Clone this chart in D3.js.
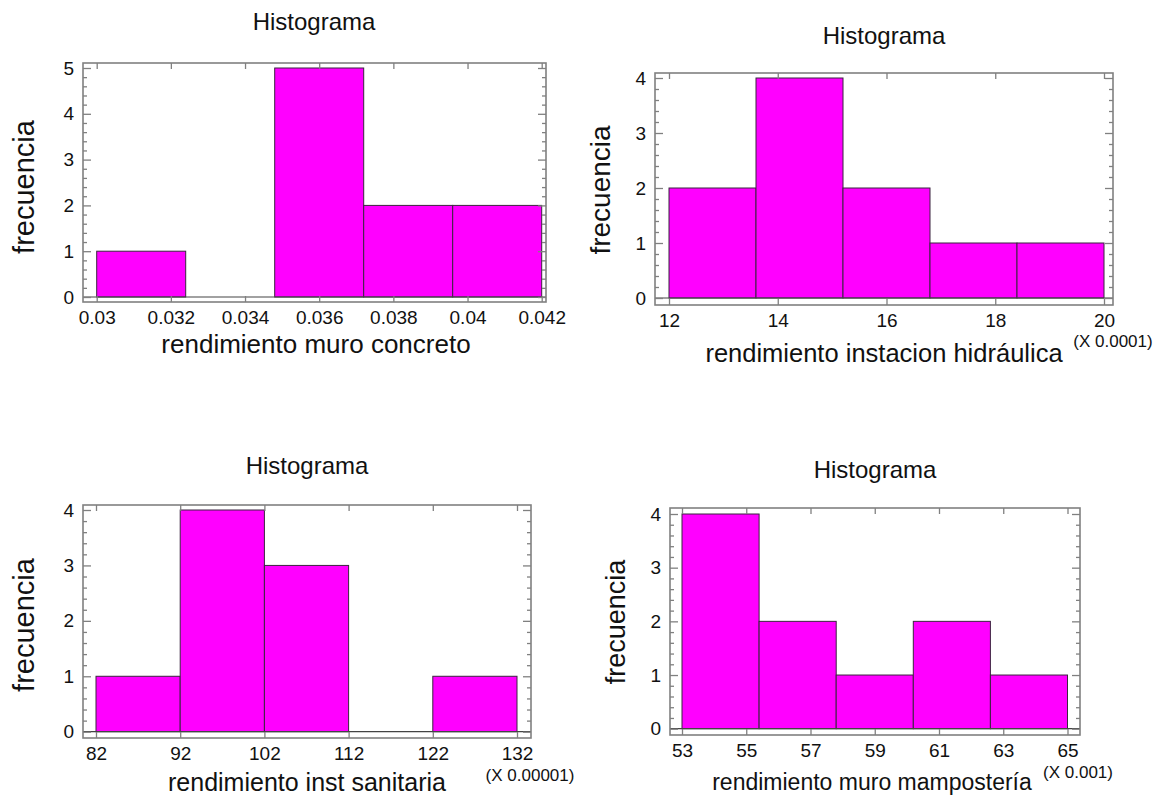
<!DOCTYPE html>
<html><head><meta charset="utf-8">
<script src="https://cdn.jsdelivr.net/npm/d3@7"></script>
<style>
html,body{margin:0;padding:0;background:#fff;}
svg{display:block;font-family:"Liberation Sans",Arial,sans-serif;}
</style></head>
<body>
<svg id="c" width="1175" height="800"></svg>
<script>
// ---- data ----
const titleText = "Histograma";
const yLabelText = "frecuencia";

const p1Edges = [0.03, 0.0324, 0.0348, 0.0372, 0.0396, 0.042];
const p1Counts = [1, 0, 5, 2, 2];
const p1XTicks = [0.03, 0.032, 0.034, 0.036, 0.038, 0.04, 0.042];
const p1XTickLabels = ["0.03", "0.032", "0.034", "0.036", "0.038", "0.04", "0.042"];
const p1YTicks = [0, 1, 2, 3, 4, 5];
const p1XLabel = "rendimiento muro concreto";
const p1Mult = "";

const p2Edges = [12, 13.6, 15.2, 16.8, 18.4, 20];
const p2Counts = [2, 4, 2, 1, 1];
const p2XTicks = [12, 14, 16, 18, 20];
const p2XTickLabels = ["12", "14", "16", "18", "20"];
const p2YTicks = [0, 1, 2, 3, 4];
const p2XLabel = "rendimiento instacion hidráulica";
const p2Mult = "(X 0.0001)";

const p3Edges = [82, 92, 102, 112, 122, 132];
const p3Counts = [1, 4, 3, 0, 1];
const p3XTicks = [82, 92, 102, 112, 122, 132];
const p3XTickLabels = ["82", "92", "102", "112", "122", "132"];
const p3YTicks = [0, 1, 2, 3, 4];
const p3XLabel = "rendimiento inst sanitaria";
const p3Mult = "(X 0.00001)";

const p4Edges = [53, 55.4, 57.8, 60.2, 62.6, 65];
const p4Counts = [4, 2, 1, 2, 1];
const p4XTicks = [53, 55, 57, 59, 61, 63, 65];
const p4XTickLabels = ["53", "55", "57", "59", "61", "63", "65"];
const p4YTicks = [0, 1, 2, 3, 4];
const p4XLabel = "rendimiento muro mampostería";
const p4Mult = "(X 0.001)";

// ---- layout (pixels only) ----
const layouts = [
  {frame:[83,63,546,302],  xr:[96.7,541.7], yr:[297,68],   title:[314,30],  xlab:[316,353], xfs:26,   ylab:[24,187],  yfs:29, mult:null},
  {frame:[655,73,1113,305], xr:[669,1104],  yr:[298,78],   title:[884,44],  xlab:[884,362], xfs:25.5, ylab:[600,190], yfs:28, mult:[1113,347]},
  {frame:[83,505,531,738],  xr:[96,517],    yr:[731.7,510],title:[307,474], xlab:[307,791], xfs:25,   ylab:[24,625],  yfs:29, mult:[530,781]},
  {frame:[670,508,1080,735],xr:[682,1067.5],yr:[728.7,514],title:[875,478], xlab:[872,790], xfs:23,   ylab:[616,622], yfs:27, mult:[1078,778]}
];

const panels = [
  {edges:p1Edges, counts:p1Counts, xt:p1XTicks, xtl:p1XTickLabels, yt:p1YTicks, xl:p1XLabel, mult:p1Mult},
  {edges:p2Edges, counts:p2Counts, xt:p2XTicks, xtl:p2XTickLabels, yt:p2YTicks, xl:p2XLabel, mult:p2Mult},
  {edges:p3Edges, counts:p3Counts, xt:p3XTicks, xtl:p3XTickLabels, yt:p3YTicks, xl:p3XLabel, mult:p3Mult},
  {edges:p4Edges, counts:p4Counts, xt:p4XTicks, xtl:p4XTickLabels, yt:p4YTicks, xl:p4XLabel, mult:p4Mult}
];

const svg = d3.select("#c");
const frameColor = "#808080";

panels.forEach((p, i) => {
  const L = layouts[i];
  const [fx0, fy0, fx1, fy1] = L.frame;
  const x = d3.scaleLinear().domain([p.xt[0], p.xt[p.xt.length-1]]).range(L.xr);
  const yMax = p.yt[p.yt.length-1];
  const y = d3.scaleLinear().domain([0, yMax]).range(L.yr);
  const g = svg.append("g");

  // bars
  const bins = p.counts.map((c, k) => ({x0:p.edges[k], x1:p.edges[k+1], c}));
  g.selectAll("rect.bar").data(bins.filter(b => b.c > 0)).join("rect")
    .attr("class","bar")
    .attr("x", b => x(b.x0)).attr("width", b => x(b.x1) - x(b.x0))
    .attr("y", b => y(b.c)).attr("height", b => y(0) - y(b.c))
    .attr("fill", "#ff00ff").attr("stroke", "#3b2440").attr("stroke-width", 1);

  // zero baseline across frame
  g.append("line").attr("x1", fx0).attr("x2", fx1).attr("y1", y(0)).attr("y2", y(0))
    .attr("stroke", "#444").attr("stroke-width", 1.2);

  // frame
  g.append("rect").attr("x", fx0).attr("y", fy0).attr("width", fx1-fx0).attr("height", fy1-fy0)
    .attr("fill","none").attr("stroke", frameColor).attr("stroke-width", 1.6);

  // minor y ticks
  const minor = d3.range(0, yMax*5 + 1).map(v => v/5).filter(v => v % 1 !== 0);
  const styleAxis = sel => { sel.select(".domain").remove(); sel.selectAll("line").attr("stroke", frameColor).attr("stroke-width",1.3); };

  g.append("g").attr("transform", `translate(${fx0},0)`)
    .call(d3.axisLeft(y).tickValues(minor).tickSize(-4).tickFormat(""))
    .call(styleAxis);
  g.append("g").attr("transform", `translate(${fx1},0)`)
    .call(d3.axisRight(y).tickValues(minor).tickSize(-4).tickFormat(""))
    .call(styleAxis);
  // major y ticks
  g.append("g").attr("transform", `translate(${fx0},0)`)
    .call(d3.axisLeft(y).tickValues(p.yt).tickSize(-8).tickPadding(9).tickFormat(d3.format("d")))
    .call(styleAxis)
    .call(s => s.selectAll("text").attr("font-size", 19).attr("fill", "#111")
      .attr("font-family", "Liberation Sans, Arial, sans-serif"));
  g.append("g").attr("transform", `translate(${fx1},0)`)
    .call(d3.axisRight(y).tickValues(p.yt).tickSize(-8).tickFormat(""))
    .call(styleAxis);

  // x ticks
  const lab = d => p.xtl[p.xt.indexOf(d)];
  g.append("g").attr("transform", `translate(0,${fy1})`)
    .call(d3.axisBottom(x).tickValues(p.xt).tickSize(-6).tickPadding(9).tickFormat(lab))
    .call(styleAxis)
    .call(s => s.selectAll("text").attr("font-size", 19).attr("fill", "#111")
      .attr("font-family", "Liberation Sans, Arial, sans-serif"));
  g.append("g").attr("transform", `translate(0,${fy0})`)
    .call(d3.axisTop(x).tickValues(p.xt).tickSize(-6).tickFormat(""))
    .call(styleAxis);

  // title
  g.append("text").attr("x", L.title[0]).attr("y", L.title[1]).attr("text-anchor","middle")
    .attr("font-size", 24).attr("fill","#111").text(titleText);
  // x label
  g.append("text").attr("x", L.xlab[0]).attr("y", L.xlab[1]).attr("text-anchor","middle")
    .attr("font-size", L.xfs).attr("fill","#111").text(p.xl);
  // y label
  g.append("text").attr("transform", `translate(${L.ylab[0]},${L.ylab[1]}) rotate(-90)`)
    .attr("text-anchor","middle").attr("dy","0.35em")
    .attr("font-size", L.yfs).attr("fill","#111").text(yLabelText);
  // multiplier
  if (p.mult && L.mult) {
    g.append("text").attr("x", L.mult[0]).attr("y", L.mult[1]).attr("text-anchor","middle")
      .attr("font-size", 17).attr("fill","#111").text(p.mult);
  }
});
</script>
</body></html>
